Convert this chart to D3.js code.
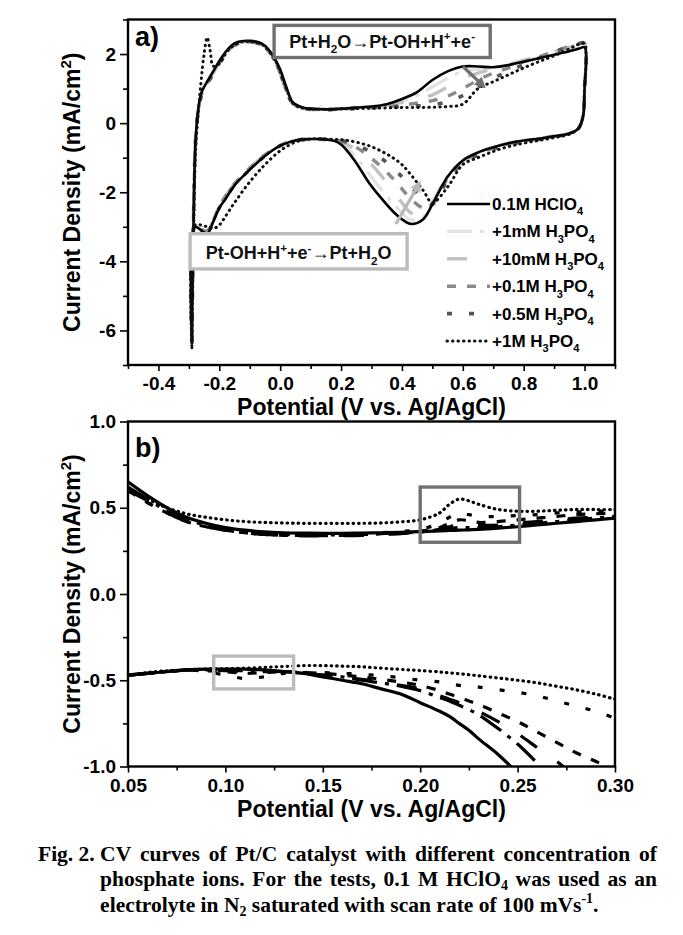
<!DOCTYPE html>
<html><head><meta charset="utf-8">
<script src="https://cdn.jsdelivr.net/npm/d3@7"></script>
<style>body{margin:0;background:#fff}svg{display:block}</style>
</head><body><svg id="c" width="683" height="935"></svg>
<script>
// ---------------- DATA ----------------
const seriesNames = ["0.1M HClO_{4}", "+1mM H_{3}PO_{4}", "+10mM H_{3}PO_{4}", "+0.1M H_{3}PO_{4}", "+0.5M H_{3}PO_{4}", "+1M H_{3}PO_{4}"];

// Panel a: anodic sweep potentials (V) and currents (mA/cm2)
const aUpE = [-0.29,-0.287,-0.283,-0.278,-0.27,-0.26,-0.25,-0.24,-0.23,-0.22,-0.2,-0.18,-0.16,-0.14,-0.12,-0.1,-0.08,-0.06,-0.04,-0.02,0.0,0.02,0.04,0.06,0.08,0.1,0.15,0.2,0.25,0.3,0.35,0.4,0.45,0.5,0.55,0.6,0.65,0.7,0.75,0.8,0.85,0.9,0.95,0.98,1.0,1.005];
const aUp_HClO4 = [-6.4,-4.0,-2.0,-0.5,0.35,0.85,1.05,1.2,1.35,1.5,1.8,2.05,2.25,2.35,2.38,2.38,2.36,2.3,2.15,1.9,1.55,1.05,0.62,0.5,0.44,0.42,0.4,0.42,0.45,0.48,0.55,0.7,0.9,1.25,1.5,1.64,1.64,1.62,1.68,1.78,1.88,1.98,2.08,2.15,2.2,2.0];
const aUp_1mM = [-6.3,-4.0,-2.0,-0.5,0.3,0.8,1.0,1.15,1.3,1.45,1.75,2.0,2.2,2.32,2.36,2.36,2.34,2.28,2.12,1.88,1.5,1.0,0.6,0.48,0.43,0.41,0.4,0.42,0.45,0.48,0.53,0.64,0.8,1.05,1.3,1.5,1.56,1.6,1.7,1.8,1.9,2.0,2.12,2.2,2.25,2.0];
const aUp_10mM = [-6.3,-4.0,-2.0,-0.5,0.3,0.8,1.0,1.15,1.3,1.45,1.75,2.0,2.2,2.3,2.35,2.35,2.33,2.27,2.1,1.85,1.45,0.95,0.58,0.47,0.42,0.4,0.39,0.41,0.43,0.46,0.52,0.6,0.68,0.82,1.05,1.3,1.45,1.58,1.7,1.82,1.94,2.07,2.2,2.28,2.3,2.0];
const aUp_01M = [-6.3,-4.0,-2.0,-0.5,0.3,0.8,1.0,1.15,1.3,1.45,1.75,2.0,2.2,2.3,2.35,2.35,2.33,2.27,2.1,1.85,1.45,0.95,0.58,0.47,0.42,0.4,0.39,0.41,0.43,0.45,0.48,0.52,0.58,0.65,0.78,1.0,1.25,1.45,1.6,1.78,1.92,2.08,2.22,2.3,2.32,2.0];
const aUp_05M = [-6.35,-4.0,-2.0,-0.5,0.3,0.75,0.98,1.12,1.28,1.42,1.72,1.98,2.18,2.3,2.35,2.35,2.33,2.27,2.1,1.85,1.45,0.95,0.58,0.47,0.42,0.4,0.39,0.41,0.43,0.45,0.46,0.48,0.5,0.53,0.62,0.8,1.05,1.3,1.5,1.7,1.88,2.05,2.22,2.3,2.32,2.0];
const aUp_1M = [-6.5,-4.5,-2.5,-0.8,0.2,1.2,2.0,2.48,2.1,1.65,1.72,2.0,2.2,2.32,2.36,2.36,2.34,2.28,2.12,1.88,1.5,1.0,0.6,0.47,0.43,0.41,0.4,0.41,0.42,0.43,0.44,0.45,0.45,0.46,0.48,0.55,1.0,1.2,1.4,1.6,1.78,1.95,2.15,2.28,2.3,2.0];

// Panel a: cathodic sweep
const aDownE = [1.005,1.0,0.995,0.98,0.95,0.9,0.85,0.8,0.75,0.7,0.65,0.6,0.55,0.5,0.47,0.43,0.4,0.37,0.33,0.29,0.25,0.22,0.2,0.18,0.15,0.1,0.05,0.0,-0.05,-0.1,-0.15,-0.18,-0.2,-0.22,-0.24,-0.26,-0.28,-0.29];
const aDown_HClO4 = [2.0,1.0,0.2,-0.15,-0.3,-0.38,-0.45,-0.5,-0.58,-0.7,-0.85,-1.08,-1.55,-2.35,-2.78,-2.92,-2.78,-2.55,-2.15,-1.7,-1.15,-0.8,-0.62,-0.52,-0.47,-0.46,-0.5,-0.65,-0.95,-1.35,-1.8,-2.2,-2.45,-2.85,-3.2,-3.1,-3.0,-6.4];
const aDown_1mM = [2.0,1.0,0.2,-0.15,-0.3,-0.38,-0.45,-0.5,-0.58,-0.7,-0.86,-1.1,-1.5,-2.3,-2.7,-2.8,-2.6,-2.3,-1.9,-1.45,-1.0,-0.72,-0.58,-0.5,-0.47,-0.46,-0.5,-0.65,-0.93,-1.32,-1.78,-2.15,-2.42,-2.85,-3.15,-3.1,-3.0,-6.3];
const aDown_10mM = [2.0,1.0,0.2,-0.15,-0.3,-0.38,-0.45,-0.5,-0.58,-0.7,-0.86,-1.1,-1.55,-2.3,-2.6,-2.6,-2.3,-1.95,-1.5,-1.1,-0.78,-0.62,-0.55,-0.5,-0.47,-0.46,-0.5,-0.64,-0.92,-1.3,-1.75,-2.12,-2.4,-2.82,-3.12,-3.08,-3.0,-6.3];
const aDown_01M = [2.0,1.0,0.2,-0.15,-0.3,-0.38,-0.45,-0.52,-0.6,-0.72,-0.88,-1.12,-1.6,-2.35,-2.45,-2.2,-1.9,-1.6,-1.25,-0.95,-0.7,-0.58,-0.52,-0.49,-0.47,-0.46,-0.5,-0.64,-0.92,-1.3,-1.75,-2.12,-2.4,-2.82,-3.12,-3.08,-3.0,-6.3];
const aDown_05M = [2.0,1.0,0.2,-0.15,-0.3,-0.4,-0.47,-0.54,-0.62,-0.75,-0.92,-1.15,-1.65,-2.35,-2.2,-1.85,-1.55,-1.3,-1.0,-0.8,-0.62,-0.54,-0.5,-0.48,-0.47,-0.46,-0.5,-0.66,-0.95,-1.35,-1.8,-2.18,-2.45,-2.85,-3.15,-3.1,-3.0,-6.35];
const aDown_1M = [2.0,1.0,0.2,-0.15,-0.32,-0.42,-0.5,-0.58,-0.68,-0.82,-1.0,-1.2,-1.85,-2.3,-1.95,-1.5,-1.2,-1.0,-0.8,-0.65,-0.55,-0.5,-0.48,-0.47,-0.46,-0.46,-0.55,-0.8,-1.2,-1.7,-2.3,-2.7,-2.95,-3.05,-3.0,-2.95,-2.95,-6.5];

// Panel b (zoom): potentials and currents
const bE = [0.05,0.06,0.07,0.08,0.09,0.1,0.11,0.12,0.13,0.14,0.15,0.16,0.17,0.18,0.19,0.2,0.21,0.215,0.22,0.225,0.23,0.24,0.25,0.26,0.27,0.28,0.29,0.3];
const bUp_HClO4 = [0.65,0.57,0.5,0.445,0.41,0.385,0.37,0.36,0.355,0.353,0.352,0.352,0.353,0.355,0.358,0.362,0.366,0.368,0.37,0.372,0.375,0.382,0.39,0.4,0.41,0.42,0.43,0.44];
const bUp_1mM = [0.62,0.55,0.48,0.43,0.4,0.375,0.36,0.35,0.345,0.343,0.342,0.343,0.345,0.348,0.352,0.36,0.37,0.378,0.385,0.385,0.385,0.39,0.4,0.41,0.42,0.43,0.44,0.45];
const bUp_10mM = [0.6,0.54,0.47,0.42,0.39,0.37,0.355,0.345,0.34,0.338,0.337,0.338,0.34,0.345,0.35,0.36,0.375,0.39,0.4,0.4,0.398,0.4,0.41,0.42,0.43,0.44,0.445,0.45];
const bUp_01M = [0.6,0.53,0.47,0.42,0.39,0.37,0.355,0.345,0.34,0.338,0.338,0.34,0.345,0.35,0.355,0.365,0.385,0.41,0.43,0.425,0.415,0.42,0.43,0.44,0.45,0.46,0.465,0.47];
const bUp_05M = [0.6,0.53,0.47,0.42,0.39,0.37,0.355,0.345,0.34,0.34,0.34,0.343,0.348,0.355,0.362,0.375,0.41,0.445,0.47,0.46,0.45,0.45,0.455,0.46,0.47,0.475,0.48,0.48];
const bUp_1M = [0.61,0.55,0.5,0.465,0.445,0.43,0.42,0.415,0.412,0.41,0.41,0.41,0.41,0.412,0.418,0.43,0.47,0.52,0.55,0.54,0.52,0.49,0.48,0.48,0.485,0.49,0.49,0.49];
const bDown_HClO4 = [-0.47,-0.46,-0.45,-0.44,-0.435,-0.435,-0.435,-0.44,-0.45,-0.46,-0.48,-0.5,-0.52,-0.55,-0.58,-0.63,-0.68,-0.71,-0.75,-0.79,-0.84,-0.93,-1.04,null,null,null,null,null];
const bDown_1mM = [-0.47,-0.46,-0.45,-0.44,-0.44,-0.44,-0.445,-0.445,-0.45,-0.46,-0.47,-0.48,-0.5,-0.515,-0.535,-0.56,-0.6,-0.62,-0.645,-0.67,-0.7,-0.78,-0.87,-0.98,-1.1,null,null,null];
const bDown_10mM = [-0.47,-0.46,-0.45,-0.44,-0.44,-0.445,-0.45,-0.45,-0.45,-0.46,-0.47,-0.48,-0.495,-0.51,-0.53,-0.55,-0.59,-0.61,-0.63,-0.655,-0.68,-0.74,-0.81,-0.89,-0.97,-1.06,null,null];
const bDown_01M = [-0.47,-0.46,-0.45,-0.44,-0.445,-0.45,-0.46,-0.455,-0.45,-0.455,-0.46,-0.47,-0.48,-0.495,-0.51,-0.53,-0.56,-0.58,-0.6,-0.62,-0.64,-0.69,-0.74,-0.8,-0.86,-0.92,-0.97,-1.02];
const bDown_05M = [-0.47,-0.46,-0.45,-0.44,-0.45,-0.47,-0.49,-0.48,-0.46,-0.455,-0.455,-0.46,-0.465,-0.475,-0.485,-0.5,-0.51,-0.52,-0.53,-0.535,-0.54,-0.555,-0.57,-0.59,-0.62,-0.65,-0.68,-0.72];
const bDown_1M = [-0.47,-0.455,-0.445,-0.44,-0.435,-0.433,-0.43,-0.425,-0.42,-0.415,-0.415,-0.418,-0.422,-0.43,-0.437,-0.444,-0.452,-0.457,-0.462,-0.468,-0.474,-0.487,-0.5,-0.515,-0.535,-0.555,-0.58,-0.61];

// Ticks
const aXMajor = [-0.4,-0.2,0.0,0.2,0.4,0.6,0.8,1.0];
const aXLabels = ["-0.4","-0.2","0.0","0.2","0.4","0.6","0.8","1.0"];
const aXMinor = [-0.5,-0.3,-0.1,0.1,0.3,0.5,0.7,0.9,1.1];
const aYMajor = [2,0,-2,-4,-6];
const aYLabels = ["2","0","-2","-4","-6"];
const aYMinor = [3,1,-1,-3,-5,-7];
const bXMajor = [0.05,0.10,0.15,0.20,0.25,0.30];
const bXLabels = ["0.05","0.10","0.15","0.20","0.25","0.30"];
const bXMinor = [0.075,0.125,0.175,0.225,0.275];
const bYMajor = [1,0.5,0,-0.5,-1];
const bYLabels = ["1.0","0.5","0.0","-0.5","-1.0"];
const bYMinor = [0.75,0.25,-0.25,-0.75];

// Texts
const reactionOx = "Pt+H_{2}O→Pt-OH+H^{+}+e^{-}";
const reactionRed = "Pt-OH+H^{+}+e^{-}→Pt+H_{2}O";
const xTitle = "Potential (V vs. Ag/AgCl)";
const yTitle = "Current Density (mA/cm^{2})";
const captionLabel = "Fig. 2.";
const caption1 = "CV curves of Pt/C catalyst with different concentration of";
const caption2 = "phosphate ions. For the tests, 0.1 M HClO_{4} was used as an";
const caption3 = "electrolyte in N_{2} saturated with scan rate of 100 mVs^{-1}.";

// ---------------- STYLES ----------------
const styleA = [
  {c:"#000", w:2.6, d:null, cap:"butt"},
  {c:"#e2e2e2", w:3.2, d:"25,8,4,8", cap:"butt"},
  {c:"#c2c2c2", w:3.4, d:"20,25", cap:"butt"},
  {c:"#8a8a8a", w:3.4, d:"9,11", cap:"butt"},
  {c:"#555", w:3.6, d:"5,17", cap:"butt"},
  {c:"#111", w:3.0, d:"0.5,5", cap:"round"}
];
const drawOrder = [1,2,3,4,0,5];

const svg = d3.select("#c");
const SANS = "'Liberation Sans', Arial, sans-serif";
const TITLE_FS = 23;

function rich(textSel, str, fs, subShift){
  const sub = subShift === undefined ? 0.32 : subShift;
  const toks = str.split(/(_\{[^}]*\}|\^\{[^}]*\})/).filter(s=>s.length);
  let shift = 0;
  toks.forEach(t=>{
    let kind='n', s=t;
    if(t.startsWith('_{')){kind='sub'; s=t.slice(2,-1);} else if(t.startsWith('^{')){kind='sup'; s=t.slice(2,-1);}
    const target = kind==='sub'? fs*sub : kind==='sup' ? -fs*0.4 : 0;
    const sp = textSel.append('tspan').text(s);
    if (target-shift !== 0) sp.attr('dy', target-shift);
    if(kind!=='n') sp.attr('font-size', fs*0.65);
    shift = target;
  });
}

function panel(o){
  const g = svg.append("g");
  const id = "clip"+o.name;
  svg.append("clipPath").attr("id", id).append("rect")
    .attr("x", o.left).attr("y", o.top).attr("width", o.right-o.left).attr("height", o.bottom-o.top);
  const tickStyle = sel => {
    sel.select(".domain").remove();
    sel.selectAll("line").attr("stroke","#000").attr("stroke-width",1.6);
    sel.selectAll("text").attr("font-family",SANS).attr("font-weight","bold").attr("font-size",19).attr("fill","#000");
  };
  g.append("g").attr("transform",`translate(0,${o.bottom})`)
    .call(d3.axisBottom(o.x).tickValues(o.xMajor).tickSize(6).tickPadding(6).tickFormat((d,i)=>o.xLabels[i])).call(tickStyle);
  g.append("g").attr("transform",`translate(0,${o.bottom})`)
    .call(d3.axisBottom(o.x).tickValues(o.xMinor).tickSize(4).tickFormat("")).call(tickStyle);
  g.append("g").attr("transform",`translate(${o.left},0)`)
    .call(d3.axisLeft(o.y).tickValues(o.yMajor).tickSize(8).tickPadding(4).tickFormat((d,i)=>o.yLabels[i])).call(tickStyle);
  g.append("g").attr("transform",`translate(${o.left},0)`)
    .call(d3.axisLeft(o.y).tickValues(o.yMinor).tickSize(5).tickFormat("")).call(tickStyle);
  g.append("text").attr("x",(o.left+o.right)/2).attr("y",o.bottom+50).attr("text-anchor","middle")
    .attr("font-family",SANS).attr("font-weight","bold").attr("font-size",TITLE_FS).text(xTitle);
  const yt = g.append("text").attr("transform",`translate(80,${(o.top+o.bottom)/2}) rotate(-90)`).attr("text-anchor","middle")
    .attr("font-family",SANS).attr("font-weight","bold").attr("font-size",TITLE_FS);
  rich(yt, yTitle, TITLE_FS);
  const plot = g.append("g").attr("clip-path",`url(#${id})`);
  return {g, plot};
}

const L=128, R=615;
// ---------- Panel a ----------
const xa = d3.scaleLinear().domain([-0.5,1.1]).range([L,R]);
const ya = d3.scaleLinear().domain([-7,3]).range([365,19.5]);
const pa = panel({name:"a", x:xa, y:ya, left:L, right:R, top:19.5, bottom:365,
  xMajor:aXMajor, xLabels:aXLabels, xMinor:aXMinor, yMajor:aYMajor, yLabels:aYLabels, yMinor:aYMinor});

const aUp = [aUp_HClO4, aUp_1mM, aUp_10mM, aUp_01M, aUp_05M, aUp_1M];
const aDown = [aDown_HClO4, aDown_1mM, aDown_10mM, aDown_01M, aDown_05M, aDown_1M];
const lineA = d3.line().x(d=>xa(d[0])).y(d=>ya(d[1])).curve(d3.curveCatmullRom.alpha(0.5));
drawOrder.forEach(k=>{
  const pts = aUpE.map((e,i)=>[e, aUp[k][i]]).concat(aDownE.slice(1).map((e,i)=>[e, aDown[k][i+1]]));
  const s = styleA[k];
  pa.plot.append("path").datum(pts).attr("d", lineA).attr("fill","none")
    .attr("stroke", s.c).attr("stroke-width", s.w).attr("stroke-dasharray", s.d)
    .attr("stroke-linecap", s.cap).attr("stroke-linejoin","round");
});

// arrows
const defs = svg.append("defs");
[["hd","#707070"],["hl","#b8b8b8"]].forEach(([id,c])=>{
  defs.append("marker").attr("id",id).attr("viewBox","0 0 10 10").attr("refX",6).attr("refY",5)
    .attr("markerWidth",11).attr("markerHeight",11).attr("markerUnits","userSpaceOnUse").attr("orient","auto")
    .append("path").attr("d","M0,0 L10,5 L0,10 Z").attr("fill",c);
});
const arrowOx = [[0.60,1.64],[0.665,1.10]];
const arrowRed = [[0.38,-2.92],[0.455,-1.78]];
pa.plot.append("line").attr("x1",xa(arrowOx[0][0])).attr("y1",ya(arrowOx[0][1])).attr("x2",xa(arrowOx[1][0])).attr("y2",ya(arrowOx[1][1]))
  .attr("stroke","#707070").attr("stroke-width",3.2).attr("marker-end","url(#hd)");
pa.plot.append("line").attr("x1",xa(arrowRed[0][0])).attr("y1",ya(arrowRed[0][1])).attr("x2",xa(arrowRed[1][0])).attr("y2",ya(arrowRed[1][1]))
  .attr("stroke","#b8b8b8").attr("stroke-width",3.2).attr("marker-end","url(#hl)");

// reaction boxes
function box(g, x0,x1,y0,y1, color, str){
  g.append("rect").attr("x",x0).attr("y",y0).attr("width",x1-x0).attr("height",y1-y0)
    .attr("fill","#fff").attr("stroke",color).attr("stroke-width",3.4);
  const t = g.append("text").attr("x",(x0+x1)/2).attr("y",y1-10).attr("text-anchor","middle")
    .attr("font-family",SANS).attr("font-weight","bold").attr("font-size",18).attr("fill","#111");
  rich(t, str, 18);
}
box(pa.g, xa(-0.02), xa(0.69), ya(2.83), ya(1.9), "#707070", reactionOx);
box(pa.g, xa(-0.296), xa(0.417), ya(-3.2), ya(-4.22), "#bcbcbc", reactionRed);

pa.g.append("text").attr("x",135).attr("y",46).attr("font-family",SANS).attr("font-weight","bold").attr("font-size",27).text("a)");

// legend
const legX0 = 447, legX1 = 490, legY0 = 210, legDY = 27.4;
seriesNames.forEach((nm,k)=>{
  const yy = legY0 + k*legDY;
  const s = styleA[k];
  pa.g.append("line").attr("x1",legX0).attr("x2",legX1).attr("y1",yy-6).attr("y2",yy-6)
    .attr("stroke",s.c).attr("stroke-width",s.w).attr("stroke-dasharray",s.d).attr("stroke-linecap",s.cap);
  const t = pa.g.append("text").attr("x",legX1+2).attr("y",yy).attr("font-family",SANS).attr("font-weight","bold").attr("font-size",17);
  rich(t, nm, 17);
});

pa.g.append("rect").attr("x",L).attr("y",19.5).attr("width",R-L).attr("height",365-19.5).attr("fill","none").attr("stroke","#000").attr("stroke-width",2.4);

// ---------- Panel b ----------
const xb = d3.scaleLinear().domain([0.05,0.30]).range([L,R]);
const yb = d3.scaleLinear().domain([-1,1]).range([766.5,421.5]);
const pb = panel({name:"b", x:xb, y:yb, left:L, right:R, top:421.5, bottom:766.5,
  xMajor:bXMajor, xLabels:bXLabels, xMinor:bXMinor, yMajor:bYMajor, yLabels:bYLabels, yMinor:bYMinor});
const bUp = [bUp_HClO4, bUp_1mM, bUp_10mM, bUp_01M, bUp_05M, bUp_1M];
const bDown = [bDown_HClO4, bDown_1mM, bDown_10mM, bDown_01M, bDown_05M, bDown_1M];
const lineB = d3.line().defined(d=>d[1]!==null).x(d=>xb(d[0])).y(d=>yb(d[1])).curve(d3.curveCatmullRom.alpha(0.5));
drawOrder.forEach(k=>{
  const s = styleA[k];
  [bUp[k], bDown[k]].forEach(arr=>{
    pb.plot.append("path").datum(bE.map((e,i)=>[e, arr[i]])).attr("d", lineB).attr("fill","none")
      .attr("stroke","#000").attr("stroke-width", 3.2).attr("stroke-dasharray", s.d)
      .attr("stroke-linecap", s.cap).attr("stroke-linejoin","round");
  });
});
const boxOx = [[0.20,0.62],[0.251,0.30]];
const boxRed = [[0.094,-0.36],[0.135,-0.55]];
pb.g.append("rect").attr("x",xb(boxOx[0][0])).attr("y",yb(boxOx[0][1])).attr("width",xb(boxOx[1][0])-xb(boxOx[0][0])).attr("height",yb(boxOx[1][1])-yb(boxOx[0][1]))
  .attr("fill","none").attr("stroke","#707070").attr("stroke-width",3.4);
pb.g.append("rect").attr("x",xb(boxRed[0][0])).attr("y",yb(boxRed[0][1])).attr("width",xb(boxRed[1][0])-xb(boxRed[0][0])).attr("height",yb(boxRed[1][1])-yb(boxRed[0][1]))
  .attr("fill","none").attr("stroke","#bcbcbc").attr("stroke-width",3.4);
pb.g.append("text").attr("x",135).attr("y",457).attr("font-family",SANS).attr("font-weight","bold").attr("font-size",27).text("b)");
pb.g.append("rect").attr("x",L).attr("y",421.5).attr("width",R-L).attr("height",766.5-421.5).attr("fill","none").attr("stroke","#000").attr("stroke-width",2.4);

// ---------- Caption ----------
const SERIF = "'Liberation Serif', 'Times New Roman', serif";
const CFS = 21.5;
const cap = svg.append("g").attr("font-family",SERIF).attr("font-weight","bold").attr("font-size",CFS).attr("fill","#000");
function placeWords(str, x0, x1, y, doJustify){
  const words = str.split(" ");
  const nodes = words.map(w=>{ const t = cap.append("text").attr("x",0).attr("y",y); rich(t, w, CFS, 0.2); return t; });
  const widths = nodes.map(n=>n.node().getComputedTextLength());
  const total = d3.sum(widths);
  const space = doJustify ? Math.max(CFS*0.2, (x1-x0-total)/(words.length-1)) : CFS*0.25;
  let x = x0;
  nodes.forEach((n,i)=>{ n.attr("x", x); x += widths[i] + space; });
  return x;
}
const labelEnd = placeWords(captionLabel, 38, 657, 861, false);
const indent = labelEnd;
placeWords(caption1, indent, 657, 861, true);
placeWords(caption2, indent, 657, 886, true);
placeWords(caption3, indent, 657, 912, false);
</script></body></html>
